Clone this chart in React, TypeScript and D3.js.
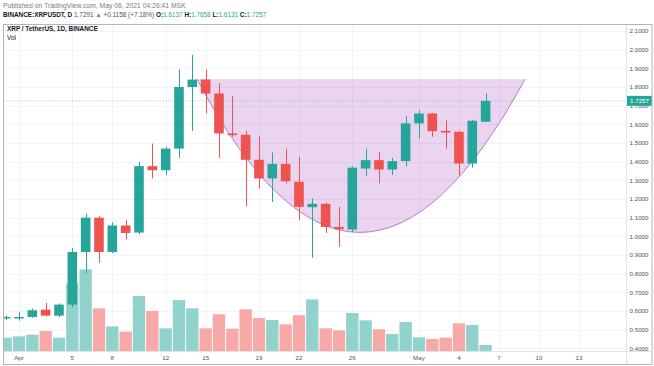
import React from "react";
import * as d3 from "d3";

const dates = [
  "2021-03-31","2021-04-01","2021-04-02","2021-04-03","2021-04-04","2021-04-05","2021-04-06","2021-04-07",
  "2021-04-08","2021-04-09","2021-04-10","2021-04-11","2021-04-12","2021-04-13","2021-04-14","2021-04-15",
  "2021-04-16","2021-04-17","2021-04-18","2021-04-19","2021-04-20","2021-04-21","2021-04-22","2021-04-23",
  "2021-04-24","2021-04-25","2021-04-26","2021-04-27","2021-04-28","2021-04-29","2021-04-30","2021-05-01",
  "2021-05-02","2021-05-03","2021-05-04","2021-05-05","2021-05-06"
];
const opens = [0.565,0.567,0.568,0.607,0.575,0.634,0.916,1.100,0.916,1.058,1.020,1.376,1.354,1.470,1.800,1.840,
  1.765,1.551,1.544,1.410,1.310,1.388,1.292,1.156,1.174,1.050,1.036,1.363,1.408,1.358,1.403,1.605,1.658,1.565,1.560,1.390,1.6137];
const highs = [0.575,0.594,0.612,0.643,0.640,0.937,1.122,1.109,1.075,1.086,1.399,1.497,1.480,1.894,1.971,1.894,
  1.819,1.751,1.565,1.537,1.449,1.470,1.426,1.203,1.180,1.158,1.375,1.470,1.452,1.420,1.644,1.676,1.662,1.622,1.565,1.625,1.7658];
const lows = [0.552,0.548,0.563,0.570,0.566,0.620,0.800,0.857,0.910,0.983,1.010,1.310,1.328,1.420,1.565,1.658,
  1.420,1.532,1.161,1.256,1.184,1.283,1.086,0.886,1.018,0.943,1.024,1.324,1.283,1.328,1.376,1.524,1.533,1.470,1.324,1.369,1.6131];
const closes = [0.568,0.568,0.604,0.575,0.634,0.916,1.100,0.916,1.058,1.018,1.376,1.354,1.470,1.800,1.840,1.765,
  1.551,1.542,1.410,1.310,1.388,1.295,1.158,1.174,1.050,1.038,1.368,1.408,1.358,1.403,1.605,1.658,1.563,1.556,1.390,1.619,1.7257];
const volumes = [400,440,490,600,400,2030,2450,1280,740,580,1650,1200,680,1530,1280,680,
  1100,670,1250,990,930,800,1075,1550,680,620,1140,920,650,510,870,410,360,400,830,780,180];

const priceTicks = [2.1,2.0,1.9,1.8,1.7,1.6,1.5,1.4,1.3,1.2,1.1,1.0,0.9,0.8,0.7,0.6,0.5,0.4];
const xTickDates = ["2021-04-01","2021-04-05","2021-04-08","2021-04-12","2021-04-15","2021-04-19","2021-04-22",
  "2021-04-26","2021-05-01","2021-05-04","2021-05-07","2021-05-10","2021-05-13"];
const xTickLabels = ["Apr","5","8","12","15","19","22","26","May","4","7","10","13"];

// cup drawing anchors: days after Apr 1, price
const cupDays = [13.35, 25.5, 37.96];
const cupPrices = [1.842, 0.2, 1.842];

const lastPrice = 1.7257;

const DAY = 86400000;
const apr1 = Date.UTC(2021, 3, 1);
const parse = (s: string) => new Date(s + "T00:00:00Z");

const UP = "#26a69a";
const DOWN = "#ef5350";
const UP_VOL = "#92d2cc";
const DOWN_VOL = "#f7a9a7";
const FONT = "'Liberation Sans', Arial, sans-serif";

export default function App() {
  const W = 654, H = 366;
  const left = 3.5, right = 626, top = 24.5, bottom = 351;
  const x = d3.scaleUtc()
    .domain([new Date(apr1 - 1.163 * DAY), new Date(apr1 + 45.53 * DAY)])
    .range([left, right]);
  const y = d3.scaleLinear().domain([0.4, 2.1]).range([348.3, 31]);
  const v = d3.scaleLinear().domain([0, 3000]).range([bottom, bottom - 100]);
  const step = x(new Date(apr1 + DAY)) - x(new Date(apr1));
  const bodyW = step * 0.72;
  const volW = step - 1;

  const cp = cupDays.map((d, i) => [x(new Date(apr1 + d * DAY)), y(cupPrices[i])]);
  const curve = d3.path();
  curve.moveTo(cp[0][0], cp[0][1]);
  curve.quadraticCurveTo(cp[1][0], cp[1][1], cp[2][0], cp[2][1]);
  const fillPath = d3.path();
  fillPath.moveTo(cp[0][0], cp[0][1]);
  fillPath.quadraticCurveTo(cp[1][0], cp[1][1], cp[2][0], cp[2][1]);
  fillPath.closePath();

  const yLast = y(lastPrice);

  return (
    <div style={{ position: "absolute", left: 0, top: 0 }}>
      <svg width={W} height={H} style={{ display: "block", background: "#fff" }} fontFamily={FONT}>
        <defs>
          <clipPath id="plot">
            <rect x={left} y={top} width={right - left} height={bottom - top} />
          </clipPath>
        </defs>
        {/* header */}
        <text x={3} y={7.5} fontSize={6.8} fill="#787b86">Published on TradingView.com, May 06, 2021 04:26:41 MSK</text>
        <text x={3} y={17} fontSize={6.4} fill="#131722">
          <tspan fontWeight="bold">BINANCE:XRPUSDT, D</tspan>
          <tspan fill="#50535e"> 1.7291 </tspan>
          <tspan fill={UP}>▲</tspan>
          <tspan fill="#50535e"> +0.1158 (+7.18%) </tspan>
          <tspan fontWeight="bold">O:</tspan><tspan fill={UP}>1.6137 </tspan>
          <tspan fontWeight="bold">H:</tspan><tspan fill={UP}>1.7658 </tspan>
          <tspan fontWeight="bold">L:</tspan><tspan fill={UP}>1.6131 </tspan>
          <tspan fontWeight="bold">C:</tspan><tspan fill={UP}>1.7257</tspan>
        </text>

        {/* grid */}
        <g stroke="#f0f3fa" strokeWidth={1}>
          {priceTicks.map((p) => (
            <line key={"h" + p} x1={left} x2={right} y1={Math.round(y(p)) + 0.5} y2={Math.round(y(p)) + 0.5} />
          ))}
          {xTickDates.map((d) => (
            <line key={"v" + d} x1={Math.round(x(parse(d))) + 0.5} x2={Math.round(x(parse(d))) + 0.5} y1={top} y2={bottom} />
          ))}
        </g>

        <g clipPath="url(#plot)">
          {/* volume */}
          {dates.map((d, i) => {
            const cx = x(parse(d));
            const up = closes[i] >= opens[i];
            return (
              <rect key={"vol" + d} x={cx - volW / 2} y={v(volumes[i])} width={volW}
                height={bottom - v(volumes[i])} fill={up ? UP_VOL : DOWN_VOL} />
            );
          })}
          {/* cup */}
          <path d={fillPath.toString()} fill="rgba(156,39,176,0.2)" stroke="none" />
          <path d={curve.toString()} fill="none" stroke="#b37ec6" strokeWidth={1} />
          {/* last price line */}
          <line x1={left} x2={right} y1={yLast} y2={yLast} stroke={UP} strokeOpacity={0.55} strokeWidth={1} strokeDasharray="1 2" />
          {/* candles */}
          {dates.map((d, i) => {
            const cx = x(parse(d));
            const up = closes[i] >= opens[i];
            const c = up ? UP : DOWN;
            const yt = y(Math.max(opens[i], closes[i]));
            const yb = y(Math.min(opens[i], closes[i]));
            const wx = Math.round(cx) + 0.5;
            return (
              <g key={"c" + d}>
                <line x1={wx} x2={wx} y1={y(highs[i])} y2={y(lows[i])} stroke={c} strokeWidth={1} />
                <rect x={cx - bodyW / 2} y={yt} width={bodyW} height={Math.max(1.5, yb - yt)} fill={c} />
              </g>
            );
          })}
        </g>

        {/* legend inside chart */}
        <text x={7} y={31} fontSize={6.4} fontWeight="bold" fill="#131722">XRP / TetherUS, 1D, BINANCE</text>
        <text x={7} y={40} fontSize={6.4} fill="#131722">Vol</text>

        {/* axes */}
        <line x1={right + 0.5} x2={right + 0.5} y1={top} y2={364} stroke="#e0e3eb" />
        <line x1={left} x2={652} y1={bottom + 0.5} y2={bottom + 0.5} stroke="#e0e3eb" />
        {priceTicks.map((p) => (
          <text key={"yt" + p} x={639} y={y(p) + 2.2} fontSize={6.2} fill="#50535e" textAnchor="middle">
            {d3.format(".4f")(p)}
          </text>
        ))}
        <rect x={627} y={yLast - 5} width={25} height={10} fill={UP} />
        <text x={639.5} y={yLast + 2.2} fontSize={6.2} fill="#fff" textAnchor="middle">{d3.format(".4f")(lastPrice)}</text>
        {xTickDates.map((d, i) => (
          <text key={"xt" + d} x={x(parse(d))} y={360} fontSize={6.2} fill="#50535e" textAnchor="middle">
            {xTickLabels[i]}
          </text>
        ))}

        {/* frame */}
        <rect x={3.5} y={top} width={648.5} height={340} fill="none" stroke="#b2b5be" strokeWidth={1} />
      </svg>
    </div>
  );
}
